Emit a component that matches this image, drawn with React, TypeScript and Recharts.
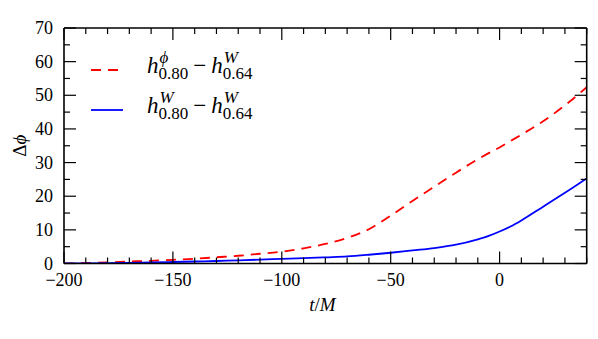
import React from 'react';
import { LineChart, Line, XAxis, YAxis, Legend } from 'recharts';

// time axis t/M
const times = [-200, -190, -180, -170, -160, -150, -140, -130, -120, -110, -100, -90, -80, -70, -60, -50, -40, -30, -20, -10, -5, 0, 5, 10, 20, 30, 40];
// h^phi_0.80 - h^W_0.64 (red dashed)
const phiVsW = [0, 0.15, 0.35, 0.6, 0.8, 1.1, 1.4, 1.85, 2.3, 2.9, 3.5, 4.5, 5.8, 7.6, 10.2, 14.2, 18.6, 22.8, 27.0, 31.0, 32.8, 34.5, 36.4, 38.3, 42.3, 47.0, 52.4];
// h^W_0.80 - h^W_0.64 (blue solid)
const wVsW = [0, 0.05, 0.1, 0.2, 0.3, 0.45, 0.6, 0.75, 0.95, 1.15, 1.4, 1.6, 1.85, 2.1, 2.6, 3.2, 3.9, 4.6, 5.6, 7.2, 8.2, 9.5, 11.0, 12.8, 16.9, 21.0, 25.3];

const xTicks = [-200, -190, -180, -170, -160, -150, -140, -130, -120, -110, -100, -90, -80, -70, -60, -50, -40, -30, -20, -10, 0, 10, 20, 30, 40];
const xMajor = [-200, -150, -100, -50, 0];
const yTicks = [0, 5, 10, 15, 20, 25, 30, 35, 40, 45, 50, 55, 60, 65, 70];
const yMajor = [0, 10, 20, 30, 40, 50, 60, 70];

const data = times.map((t, i) => ({ t, phi: phiVsW[i], w: wVsW[i] }));

const SERIF = { fontFamily: "'Liberation Serif', 'DejaVu Serif', serif" };
const RED = '#ff0000';
const BLUE = '#0000ff';
const DASH = '10 7';

const fmt = (v: number) => (v < 0 ? '\u2212' + Math.abs(v) : String(v));

// ticks point inwards, like the original figure
const BottomTick = ({ x, y, payload }: any) => {
    const major = xMajor.includes(payload.value);
    return (
        <g>
            <line x1={x} x2={x} y1={y} y2={y - (major ? 12 : 6)} stroke="#000" strokeWidth={1.2} />
            {major && (
                <text x={x} y={y + 22.5} textAnchor="middle" style={SERIF} fontSize={18} fill="#000">
                    {fmt(payload.value)}
                </text>
            )}
        </g>
    );
};

const TopTick = ({ x, y, payload }: any) => {
    const major = xMajor.includes(payload.value);
    return <line x1={x} x2={x} y1={y} y2={y + (major ? 12 : 6)} stroke="#000" strokeWidth={1.2} />;
};

const LeftTick = ({ x, y, payload }: any) => {
    const major = yMajor.includes(payload.value);
    return (
        <g>
            <line x1={x} x2={x + (major ? 12 : 6)} y1={y} y2={y} stroke="#000" strokeWidth={1.2} />
            {major && (
                <text x={x - 11} y={y + 6} textAnchor="end" style={SERIF} fontSize={18} fill="#000">
                    {payload.value}
                </text>
            )}
        </g>
    );
};

const RightTick = ({ x, y, payload }: any) => {
    const major = yMajor.includes(payload.value);
    return <line x1={x} x2={x - (major ? 12 : 6)} y1={y} y2={y} stroke="#000" strokeWidth={1.2} />;
};

// h^{sup}_{0.80} - h^{W}_{0.64}
function MathLabel({ x, y, sup }: { x: number; y: number; sup: string }) {
    const big = 23;
    const small = 17;
    const hW = 11.5;
    const subW = 1.75 * small;
    const x2 = x + hW + subW + 5 + 13 + 5;
    return (
        <g style={SERIF} fill="#000">
            <text x={x} y={y} fontSize={big} fontStyle="italic">h</text>
            <text x={x + hW} y={y + 6} fontSize={small}>0.80</text>
            <text x={x + hW + 1} y={y - 10} fontSize={small} fontStyle="italic">{sup}</text>
            <text x={x + hW + subW + 5} y={y} fontSize={big}>{'\u2212'}</text>
            <text x={x2} y={y} fontSize={big} fontStyle="italic">h</text>
            <text x={x2 + hW} y={y + 6} fontSize={small}>0.64</text>
            <text x={x2 + hW + 1} y={y - 10} fontSize={small} fontStyle="italic">W</text>
        </g>
    );
}

const LegendBox = () => (
    <svg width={200} height={80} style={{ display: 'block', overflow: 'visible' }}>
        <line x1={6} x2={35} y1={25} y2={25} stroke={RED} strokeWidth={1.8} strokeDasharray={DASH} />
        <MathLabel x={62} y={28} sup={'\u03d5'} />
        <line x1={6} x2={38} y1={65} y2={65} stroke={BLUE} strokeWidth={1.8} />
        <MathLabel x={62} y={68} sup="W" />
    </svg>
);

export default function App() {
    return (
        <div style={{ position: 'absolute', left: 0, top: 0, background: '#fff' }}>
            <LineChart
                width={598}
                height={339}
                data={data}
                margin={{ top: 27, right: 10.3, bottom: 74.5, left: 63 }}
            >
                <XAxis
                    xAxisId="bottom"
                    dataKey="t"
                    type="number"
                    domain={[-200, 40]}
                    allowDataOverflow
                    ticks={xTicks}
                    interval={0}
                    height={1}
                    tickSize={0}
                    tickMargin={0}
                    tickLine={false}
                    tick={BottomTick}
                    axisLine={{ stroke: '#000', strokeWidth: 1.6 }}
                    label={{
                        content: (p: any) => (
                            <text
                                x={p.viewBox.x + p.viewBox.width / 2 - 3}
                                y={p.viewBox.y + 47.5}
                                textAnchor="middle"
                                style={SERIF}
                                fontSize={19}
                                fill="#000"
                            >
                                <tspan fontStyle="italic">t</tspan>/<tspan fontStyle="italic">M</tspan>
                            </text>
                        ),
                    }}
                />
                <XAxis
                    xAxisId="top"
                    orientation="top"
                    dataKey="t"
                    type="number"
                    domain={[-200, 40]}
                    allowDataOverflow
                    ticks={xTicks}
                    interval={0}
                    height={1}
                    tickSize={0}
                    tickMargin={0}
                    tickLine={false}
                    tick={TopTick}
                    axisLine={{ stroke: '#000', strokeWidth: 1.6 }}
                />
                <YAxis
                    yAxisId="left"
                    type="number"
                    domain={[0, 70]}
                    allowDataOverflow
                    ticks={yTicks}
                    interval={0}
                    width={1}
                    tickSize={0}
                    tickMargin={0}
                    tickLine={false}
                    tick={LeftTick}
                    axisLine={{ stroke: '#000', strokeWidth: 1.6 }}
                    label={{
                        content: (p: any) => (
                            <text
                                transform={`translate(${p.viewBox.x - 37}, ${p.viewBox.y + p.viewBox.height / 2}) rotate(-90)`}
                                textAnchor="middle"
                                style={SERIF}
                                fontSize={19}
                                fill="#000"
                            >
                                {'\u0394'}<tspan fontStyle="italic">{'\u03d5'}</tspan>
                            </text>
                        ),
                    }}
                />
                <YAxis
                    yAxisId="right"
                    orientation="right"
                    type="number"
                    domain={[0, 70]}
                    allowDataOverflow
                    ticks={yTicks}
                    interval={0}
                    width={1}
                    tickSize={0}
                    tickMargin={0}
                    tickLine={false}
                    tick={RightTick}
                    axisLine={{ stroke: '#000', strokeWidth: 1.6 }}
                />
                <Legend
                    layout="vertical"
                    align="center"
                    verticalAlign="middle"
                    content={() => <LegendBox />}
                    wrapperStyle={{ left: 85, top: 45, width: 200, height: 80 }}
                />
                <Line
                    xAxisId="top"
                    yAxisId="right"
                    type="monotone"
                    dataKey="phi"
                    stroke={RED}
                    strokeWidth={1.8}
                    strokeDasharray={DASH}
                    dot={false}
                    isAnimationActive={false}
                />
                <Line
                    xAxisId="bottom"
                    yAxisId="left"
                    type="monotone"
                    dataKey="w"
                    stroke={BLUE}
                    strokeWidth={1.8}
                    dot={false}
                    isAnimationActive={false}
                />
            </LineChart>
        </div>
    );
}
